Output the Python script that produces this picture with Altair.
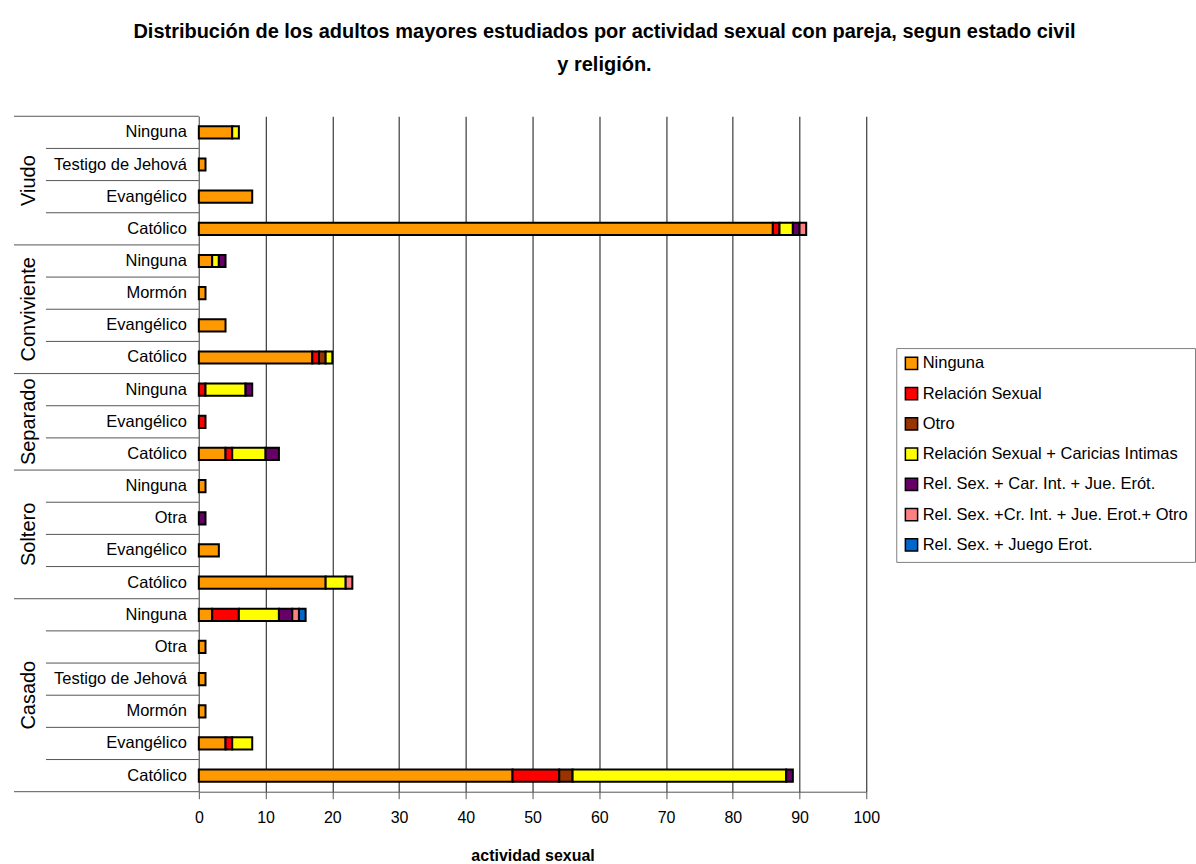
import altair as alt
import pandas as pd

groups = ["Viudo"] * 4 + ["Conviviente"] * 4 + ["Separado"] * 3 + ["Soltero"] * 4 + ["Casado"] * 6
religions = [
    "Ninguna", "Testigo de Jehová", "Evangélico", "Católico",
    "Ninguna", "Mormón", "Evangélico", "Católico",
    "Ninguna", "Evangélico", "Católico",
    "Ninguna", "Otra", "Evangélico", "Católico",
    "Ninguna", "Otra", "Testigo de Jehová", "Mormón", "Evangélico", "Católico",
]

categories = [
    "Ninguna",
    "Relación Sexual",
    "Otro",
    "Relación Sexual + Caricias Intimas",
    "Rel. Sex. + Car. Int. + Jue. Erót.",
    "Rel. Sex. +Cr. Int. + Jue. Erot.+ Otro",
    "Rel. Sex. + Juego Erot.",
]
colors = ["#FF9900", "#FF0000", "#993300", "#FFFF00", "#660066", "#FF8080", "#0066CC"]

ninguna       = [5, 1, 8, 86, 2, 1, 4, 17, 0, 0, 4, 1, 0, 3, 19, 2, 1, 1, 1, 4, 47]
rel_sexual    = [0, 0, 0, 1, 0, 0, 0, 1, 1, 1, 1, 0, 0, 0, 0, 4, 0, 0, 0, 1, 7]
otro          = [0, 0, 0, 0, 0, 0, 0, 1, 0, 0, 0, 0, 0, 0, 0, 0, 0, 0, 0, 0, 2]
rs_ci         = [1, 0, 0, 2, 1, 0, 0, 1, 6, 0, 5, 0, 0, 0, 3, 6, 0, 0, 0, 3, 32]
rs_ci_je      = [0, 0, 0, 1, 1, 0, 0, 0, 1, 0, 2, 0, 1, 0, 0, 2, 0, 0, 0, 0, 1]
rs_ci_je_otro = [0, 0, 0, 1, 0, 0, 0, 0, 0, 0, 0, 0, 0, 0, 1, 1, 0, 0, 0, 0, 0]
rs_je         = [0, 0, 0, 0, 0, 0, 0, 0, 0, 0, 0, 0, 0, 0, 0, 1, 0, 0, 0, 0, 0]

series = [ninguna, rel_sexual, otro, rs_ci, rs_ci_je, rs_ci_je_otro, rs_je]

keys = [f"{g}|{r}" for g, r in zip(groups, religions)]
rows = pd.DataFrame({"group": groups, "religion": religions, "key": keys, "idx": range(len(keys))})

recs = []
for ci, (cat, vals) in enumerate(zip(categories, series)):
    for k, v in zip(keys, vals):
        if v > 0:
            recs.append({"key": k, "cat": cat, "ord": ci, "value": v})
long = pd.DataFrame(recs)

n = len(keys)
group_bounds = [0]
for i in range(1, n):
    if groups[i] != groups[i - 1]:
        group_bounds.append(i)
group_bounds.append(n)
inner_bounds = [i for i in range(1, n) if i not in group_bounds]
gb = pd.DataFrame({"pos": group_bounds})
ib = pd.DataFrame({"pos": inner_bounds})

LABEL_FONT = "Liberation Sans, Arial, sans-serif"

H = 676
LW = 185
yq = alt.Scale(domain=[0, n], reverse=True, nice=False, zero=False)

rules_g = alt.Chart(gb).mark_rule(color="#555555", strokeWidth=1).encode(
    y=alt.Y("pos:Q", scale=yq, axis=None), x=alt.value(0), x2=alt.value(LW)
)
rules_i = alt.Chart(ib).mark_rule(color="#555555", strokeWidth=1).encode(
    y=alt.Y("pos:Q", scale=yq, axis=None), x=alt.value(32), x2=alt.value(LW)
)
rel_text = alt.Chart(rows).transform_calculate(mid="datum.idx + 0.5").mark_text(
    align="right", baseline="middle", fontSize=16.5, font=LABEL_FONT, color="black"
).encode(y=alt.Y("mid:Q", scale=yq, axis=None), x=alt.value(173), text="religion:N")
grp_text = alt.Chart(rows).transform_aggregate(
    lo="min(idx)", hi="max(idx)", groupby=["group"]
).transform_calculate(mid="(datum.lo + datum.hi + 1) / 2").mark_text(
    angle=270, align="center", baseline="middle", fontSize=20, font=LABEL_FONT, color="black"
).encode(y=alt.Y("mid:Q", scale=yq, axis=None), x=alt.value(15), text="group:N")

left = alt.layer(rules_g, rules_i, rel_text, grp_text).properties(width=LW, height=H)

bars = alt.Chart(long).mark_bar(stroke="black", strokeWidth=2).encode(
    x=alt.X(
        "value:Q",
        stack="zero",
        scale=alt.Scale(domain=[0, 100], nice=False),
        axis=alt.Axis(
            values=list(range(0, 101, 10)),
            title="actividad sexual",
            grid=True,
            gridColor="#111111",
            gridWidth=1,
            domainColor="#555555",
            tickColor="#555555",
            tickSize=7,
            labelFlush=False,
            labelPadding=11,
            labelFontSize=16,
            labelFont=LABEL_FONT,
            labelColor="black",
            titleFontSize=16,
            titleFont=LABEL_FONT,
            titleFontWeight="bold",
            titleColor="black",
            titlePadding=22,
        ),
    ),
    y=alt.Y(
        "key:N",
        sort=keys,
        scale=alt.Scale(paddingInner=0.62, paddingOuter=0.31),
        axis=alt.Axis(labels=False, ticks=False, title=None, domainColor="#808080", grid=False),
    ),
    color=alt.Color(
        "cat:N",
        scale=alt.Scale(domain=categories, range=colors),
        legend=alt.Legend(
            title=None,
            orient="none",
            legendX=883,
            legendY=232,
            symbolType="square",
            symbolSize=150,
            symbolStrokeColor="black",
            symbolStrokeWidth=1.5,
            symbolOpacity=1,
            labelFontSize=16.5,
            labelFont=LABEL_FONT,
            labelColor="black",
            labelLimit=400,
            labelOffset=3,
            rowPadding=11.3,
            padding=7,
            strokeColor="#808080",
            fillColor="white",
        ),
    ),
    order=alt.Order("ord:Q"),
).properties(width=668, height=H)

chart = alt.hconcat(left, bars, spacing=0, bounds="flush").resolve_scale(
    y="independent", x="independent"
).properties(
    title=alt.Title(
        ["Distribución de los adultos mayores estudiados por actividad sexual con pareja, segun estado civil", "y religión."],
        fontSize=20,
        font=LABEL_FONT,
        fontWeight="bold",
        color="black",
        anchor="middle",
        lineHeight=33,
        offset=41,
    ),
    padding={"left": 13, "top": 21, "right": 0, "bottom": 5},
).configure_view(stroke=None)

chart.save("out.html", embed_options={"renderer": "svg", "actions": False})
